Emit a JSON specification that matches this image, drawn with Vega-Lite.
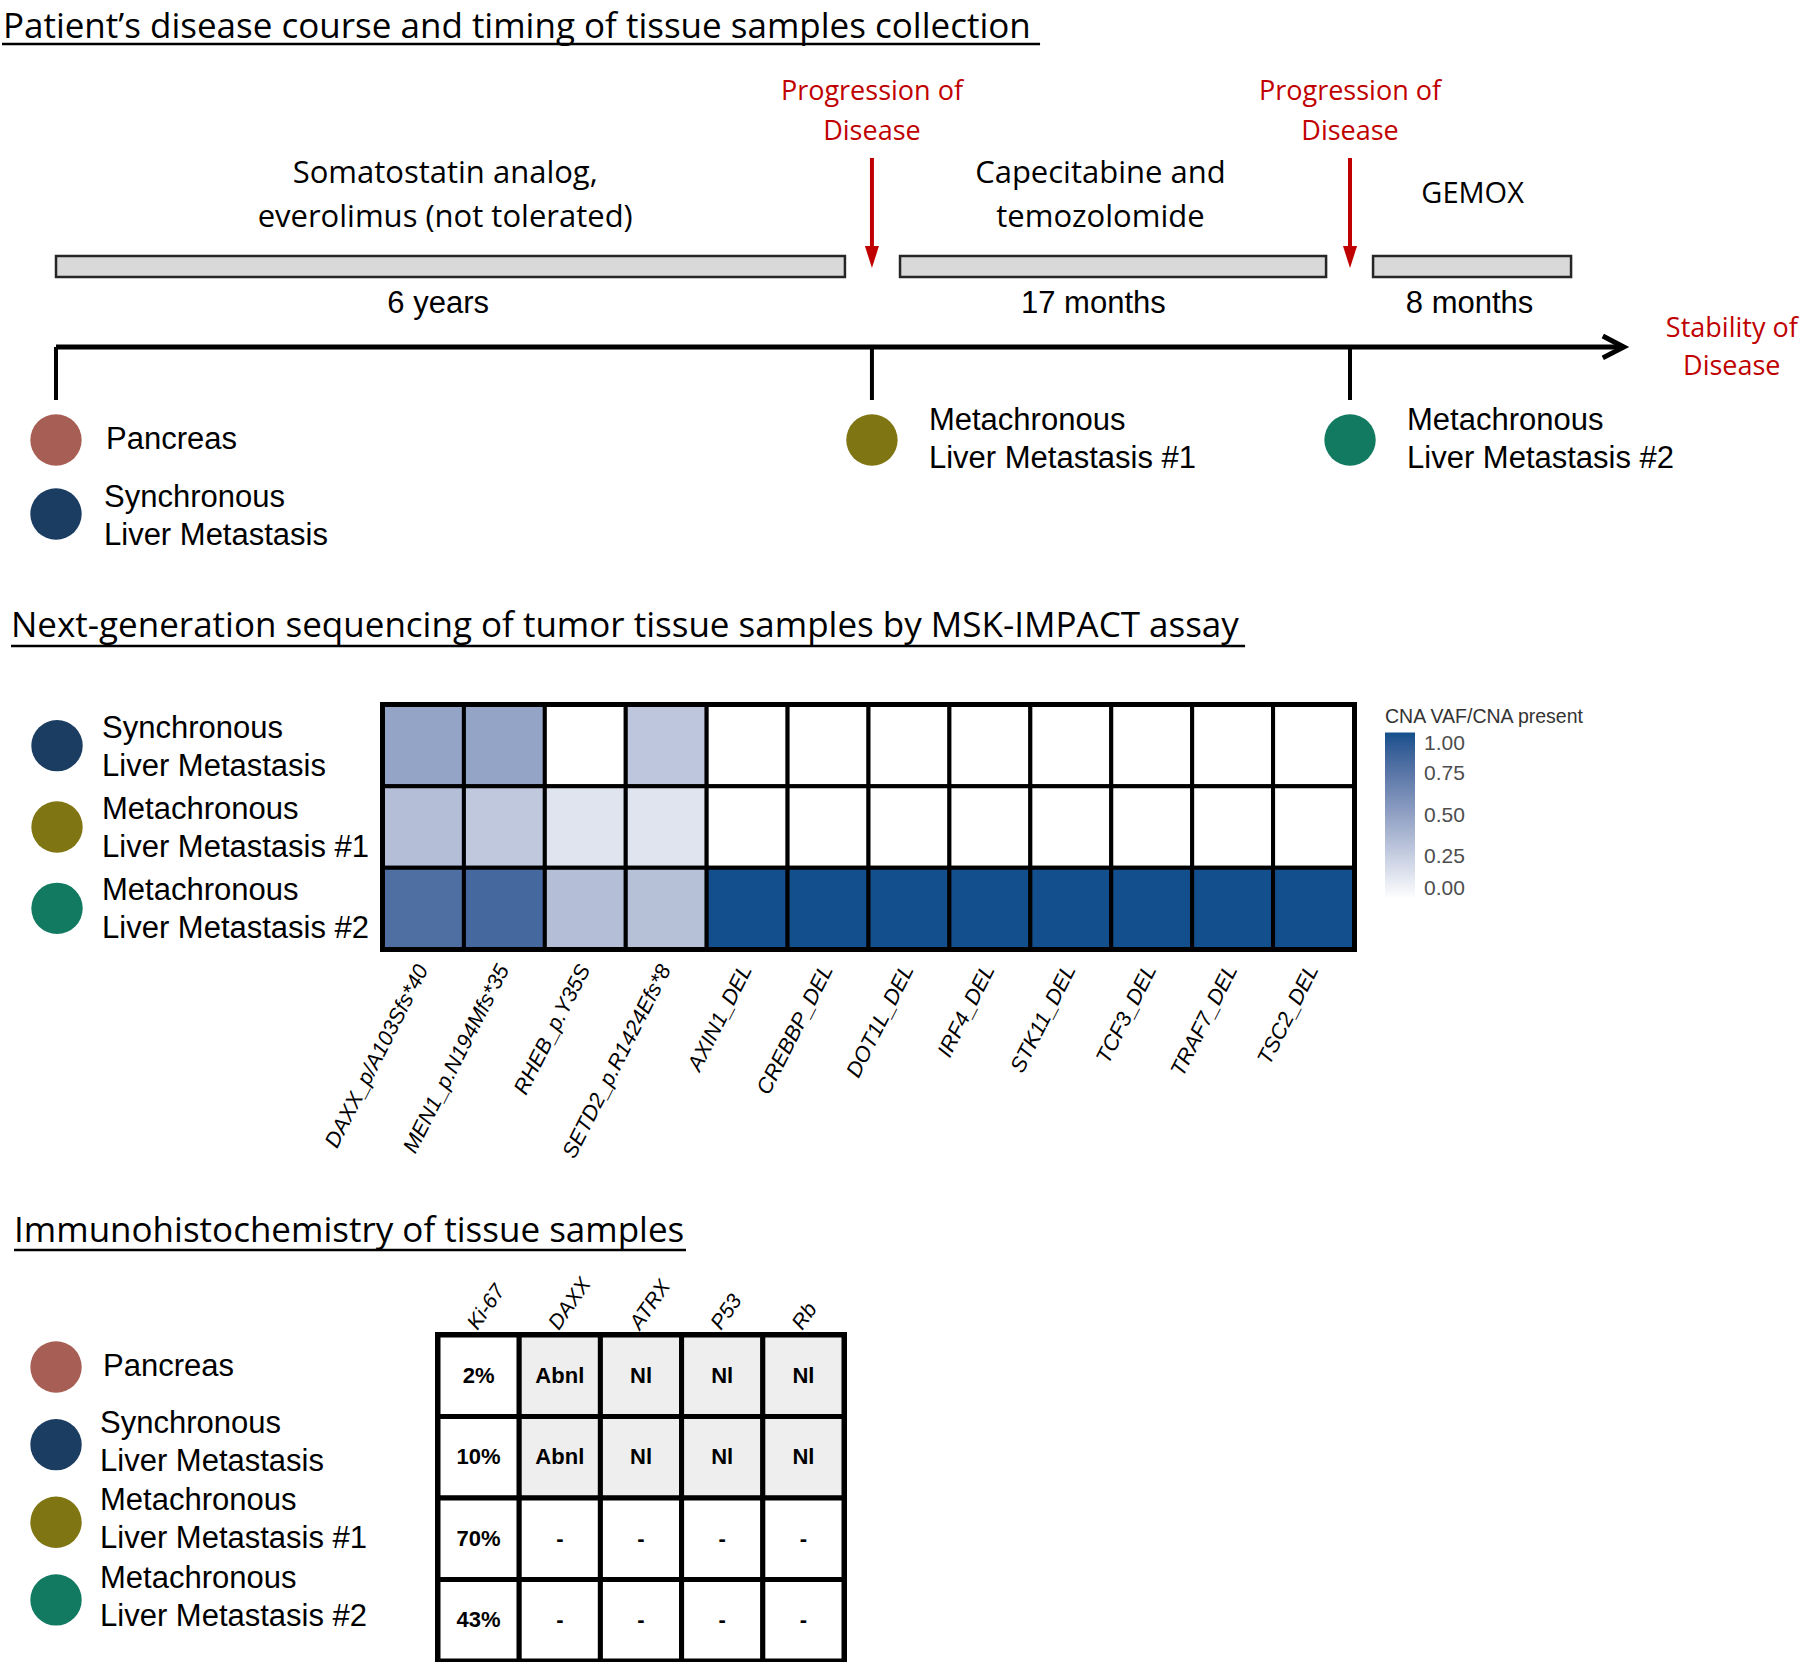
{
  "$schema": "https://vega.github.io/schema/vega-lite/v6.json",
  "padding": 0,
  "background": "white",
  "bounds": "flush",
  "spacing": 0,
  "config": {"view": {"stroke": null}, "text": {"font": "Liberation Sans", "color": "black"}},
  "resolve": {"scale": {"color": "independent"}, "legend": {"color": "independent"}},
  "datasets": {
    "sections": [
      {"section": "timeline", "title": "Patient’s disease course and timing of tissue samples collection"},
      {"section": "ngs", "title": "Next-generation sequencing of tumor tissue samples by MSK-IMPACT assay"},
      {"section": "ihc", "title": "Immunohistochemistry of tissue samples"}
    ],
    "events": [
      {"event": "Diagnosis", "label": "", "at": 3.0},
      {"event": "Progression of Disease", "label": "Progression of\nDisease", "at": 48.33},
      {"event": "Progression of Disease", "label": "Progression of\nDisease", "at": 74.89}
    ],
    "therapies": [
      {"therapy": "Somatostatin analog,\neverolimus (not tolerated)", "lines": 2, "duration": "6 years", "start": 3.0, "end": 46.83, "mid": 24.4},
      {"therapy": "Capecitabine and\ntemozolomide", "lines": 2, "duration": "17 months", "start": 49.89, "end": 73.56, "mid": 60.8},
      {"therapy": "GEMOX", "lines": 1, "duration": "8 months", "start": 76.17, "end": 87.17, "mid": 81.7}
    ],
    "span": [{"from": 3.0, "to": 90.1, "outcome": "Stability of\nDisease"}],
    "samples": [
      {"sample": "Pancreas", "label": "Pancreas", "lines": 1, "collected_at": 3.0, "slot": 0},
      {"sample": "Synchronous Liver Metastasis", "label": "Synchronous\nLiver Metastasis", "lines": 2, "collected_at": 3.0, "slot": 1},
      {"sample": "Metachronous Liver Metastasis #1", "label": "Metachronous\nLiver Metastasis #1", "lines": 2, "collected_at": 48.33, "slot": 0},
      {"sample": "Metachronous Liver Metastasis #2", "label": "Metachronous\nLiver Metastasis #2", "lines": 2, "collected_at": 74.89, "slot": 0}
    ],
    "ngs": [
      {"sample": "Synchronous Liver Metastasis", "gene": "DAXX_p/A103Sfs*40", "vaf": 0.49},
      {"sample": "Synchronous Liver Metastasis", "gene": "MEN1_p.N194Mfs*35", "vaf": 0.49},
      {"sample": "Synchronous Liver Metastasis", "gene": "RHEB_p.Y35S", "vaf": 0},
      {"sample": "Synchronous Liver Metastasis", "gene": "SETD2_p.R1424Efs*8", "vaf": 0.3},
      {"sample": "Synchronous Liver Metastasis", "gene": "AXIN1_DEL", "vaf": 0},
      {"sample": "Synchronous Liver Metastasis", "gene": "CREBBP_DEL", "vaf": 0},
      {"sample": "Synchronous Liver Metastasis", "gene": "DOT1L_DEL", "vaf": 0},
      {"sample": "Synchronous Liver Metastasis", "gene": "IRF4_DEL", "vaf": 0},
      {"sample": "Synchronous Liver Metastasis", "gene": "STK11_DEL", "vaf": 0},
      {"sample": "Synchronous Liver Metastasis", "gene": "TCF3_DEL", "vaf": 0},
      {"sample": "Synchronous Liver Metastasis", "gene": "TRAF7_DEL", "vaf": 0},
      {"sample": "Synchronous Liver Metastasis", "gene": "TSC2_DEL", "vaf": 0},
      {"sample": "Metachronous Liver Metastasis #1", "gene": "DAXX_p/A103Sfs*40", "vaf": 0.34},
      {"sample": "Metachronous Liver Metastasis #1", "gene": "MEN1_p.N194Mfs*35", "vaf": 0.29},
      {"sample": "Metachronous Liver Metastasis #1", "gene": "RHEB_p.Y35S", "vaf": 0.14},
      {"sample": "Metachronous Liver Metastasis #1", "gene": "SETD2_p.R1424Efs*8", "vaf": 0.14},
      {"sample": "Metachronous Liver Metastasis #1", "gene": "AXIN1_DEL", "vaf": 0},
      {"sample": "Metachronous Liver Metastasis #1", "gene": "CREBBP_DEL", "vaf": 0},
      {"sample": "Metachronous Liver Metastasis #1", "gene": "DOT1L_DEL", "vaf": 0},
      {"sample": "Metachronous Liver Metastasis #1", "gene": "IRF4_DEL", "vaf": 0},
      {"sample": "Metachronous Liver Metastasis #1", "gene": "STK11_DEL", "vaf": 0},
      {"sample": "Metachronous Liver Metastasis #1", "gene": "TCF3_DEL", "vaf": 0},
      {"sample": "Metachronous Liver Metastasis #1", "gene": "TRAF7_DEL", "vaf": 0},
      {"sample": "Metachronous Liver Metastasis #1", "gene": "TSC2_DEL", "vaf": 0},
      {"sample": "Metachronous Liver Metastasis #2", "gene": "DAXX_p/A103Sfs*40", "vaf": 0.8},
      {"sample": "Metachronous Liver Metastasis #2", "gene": "MEN1_p.N194Mfs*35", "vaf": 0.84},
      {"sample": "Metachronous Liver Metastasis #2", "gene": "RHEB_p.Y35S", "vaf": 0.34},
      {"sample": "Metachronous Liver Metastasis #2", "gene": "SETD2_p.R1424Efs*8", "vaf": 0.33},
      {"sample": "Metachronous Liver Metastasis #2", "gene": "AXIN1_DEL", "vaf": 1},
      {"sample": "Metachronous Liver Metastasis #2", "gene": "CREBBP_DEL", "vaf": 1},
      {"sample": "Metachronous Liver Metastasis #2", "gene": "DOT1L_DEL", "vaf": 1},
      {"sample": "Metachronous Liver Metastasis #2", "gene": "IRF4_DEL", "vaf": 1},
      {"sample": "Metachronous Liver Metastasis #2", "gene": "STK11_DEL", "vaf": 1},
      {"sample": "Metachronous Liver Metastasis #2", "gene": "TCF3_DEL", "vaf": 1},
      {"sample": "Metachronous Liver Metastasis #2", "gene": "TRAF7_DEL", "vaf": 1},
      {"sample": "Metachronous Liver Metastasis #2", "gene": "TSC2_DEL", "vaf": 1}
    ],
    "ihc": [
      {"sample": "Pancreas", "marker": "Ki-67", "result": "2%"},
      {"sample": "Pancreas", "marker": "DAXX", "result": "Abnl"},
      {"sample": "Pancreas", "marker": "ATRX", "result": "Nl"},
      {"sample": "Pancreas", "marker": "P53", "result": "Nl"},
      {"sample": "Pancreas", "marker": "Rb", "result": "Nl"},
      {"sample": "Synchronous Liver Metastasis", "marker": "Ki-67", "result": "10%"},
      {"sample": "Synchronous Liver Metastasis", "marker": "DAXX", "result": "Abnl"},
      {"sample": "Synchronous Liver Metastasis", "marker": "ATRX", "result": "Nl"},
      {"sample": "Synchronous Liver Metastasis", "marker": "P53", "result": "Nl"},
      {"sample": "Synchronous Liver Metastasis", "marker": "Rb", "result": "Nl"},
      {"sample": "Metachronous Liver Metastasis #1", "marker": "Ki-67", "result": "70%"},
      {"sample": "Metachronous Liver Metastasis #1", "marker": "DAXX", "result": "-"},
      {"sample": "Metachronous Liver Metastasis #1", "marker": "ATRX", "result": "-"},
      {"sample": "Metachronous Liver Metastasis #1", "marker": "P53", "result": "-"},
      {"sample": "Metachronous Liver Metastasis #1", "marker": "Rb", "result": "-"},
      {"sample": "Metachronous Liver Metastasis #2", "marker": "Ki-67", "result": "43%"},
      {"sample": "Metachronous Liver Metastasis #2", "marker": "DAXX", "result": "-"},
      {"sample": "Metachronous Liver Metastasis #2", "marker": "ATRX", "result": "-"},
      {"sample": "Metachronous Liver Metastasis #2", "marker": "P53", "result": "-"},
      {"sample": "Metachronous Liver Metastasis #2", "marker": "Rb", "result": "-"}
    ]
  },
  "vconcat": [
    {
      "width": 1800,
      "height": 590,
      "layer": [
        {
          "data": {"name": "sections"},
          "transform": [{"filter": "datum.section === 'timeline'"}],
          "mark": {"type": "text", "align": "left", "baseline": "alphabetic", "font": "Open Sans", "fontSize": 35, "color": "black"},
          "encoding": {
            "x": {"datum": 0.05, "type": "quantitative", "scale": {"domain": [0, 100], "nice": false, "zero": false}, "axis": null},
            "y": {"datum": 6.44, "type": "quantitative", "scale": {"domain": [0, 100], "reverse": true, "nice": false, "zero": false}, "axis": null},
            "text": {"field": "title"}
          }
        },
        {
          "data": {"name": "sections"},
          "transform": [{"filter": "datum.section === 'timeline'"}],
          "mark": {"type": "rule", "strokeWidth": 2.5, "color": "black"},
          "encoding": {
            "x": {"datum": 0, "type": "quantitative", "scale": {"domain": [0, 100], "nice": false, "zero": false}, "axis": null},
            "x2": {"datum": 57.67},
            "y": {"datum": 7.46, "type": "quantitative", "scale": {"domain": [0, 100], "reverse": true, "nice": false, "zero": false}, "axis": null}
          }
        },
        {
          "data": {"name": "events"},
          "transform": [{"filter": "datum.event === 'Progression of Disease'"}],
          "mark": {"type": "text", "align": "center", "baseline": "alphabetic", "font": "Open Sans", "fontSize": 27, "lineHeight": 40, "lineBreak": "\n", "color": "#C00000"},
          "encoding": {
            "x": {"field": "at", "type": "quantitative", "scale": {"domain": [0, 100], "nice": false, "zero": false}, "axis": null},
            "y": {"datum": 16.95, "type": "quantitative", "scale": {"domain": [0, 100], "reverse": true, "nice": false, "zero": false}, "axis": null},
            "text": {"field": "label"}
          }
        },
        {
          "data": {"name": "events"},
          "transform": [{"filter": "datum.event === 'Progression of Disease'"}],
          "mark": {"type": "rule", "strokeWidth": 4, "color": "#C00000"},
          "encoding": {
            "x": {"field": "at", "type": "quantitative", "scale": {"domain": [0, 100], "nice": false, "zero": false}, "axis": null},
            "y": {"datum": 26.78, "type": "quantitative", "scale": {"domain": [0, 100], "reverse": true, "nice": false, "zero": false}, "axis": null},
            "y2": {"datum": 42.2}
          }
        },
        {
          "data": {"name": "events"},
          "transform": [{"filter": "datum.event === 'Progression of Disease'"}],
          "mark": {"type": "point", "shape": "M-0.64,-1L0.64,-1L0,1Z", "size": 484, "filled": true, "opacity": 1, "color": "#C00000"},
          "encoding": {
            "x": {"field": "at", "type": "quantitative", "scale": {"domain": [0, 100], "nice": false, "zero": false}, "axis": null},
            "y": {"datum": 43.56, "type": "quantitative", "scale": {"domain": [0, 100], "reverse": true, "nice": false, "zero": false}, "axis": null}
          }
        },
        {
          "data": {"name": "therapies"},
          "mark": {"type": "rect", "fill": "#D9D9D9", "stroke": "#262626", "strokeWidth": 2.5},
          "encoding": {
            "x": {"field": "start", "type": "quantitative", "scale": {"domain": [0, 100], "nice": false, "zero": false}, "axis": null},
            "x2": {"field": "end"},
            "y": {"datum": 43.39, "type": "quantitative", "scale": {"domain": [0, 100], "reverse": true, "nice": false, "zero": false}, "axis": null},
            "y2": {"datum": 46.95}
          }
        },
        {
          "data": {"name": "therapies"},
          "transform": [{"filter": "datum.lines === 2"}],
          "mark": {"type": "text", "align": "center", "baseline": "middle", "font": "Open Sans", "fontSize": 31, "lineHeight": 44, "lineBreak": "\n", "dy": -22, "dx": 4, "color": "black"},
          "encoding": {
            "x": {"field": "mid", "type": "quantitative", "scale": {"domain": [0, 100], "nice": false, "zero": false}, "axis": null},
            "y": {"datum": 33.2, "type": "quantitative", "scale": {"domain": [0, 100], "reverse": true, "nice": false, "zero": false}, "axis": null},
            "text": {"field": "therapy"}
          }
        },
        {
          "data": {"name": "therapies"},
          "transform": [{"filter": "datum.lines === 1"}],
          "mark": {"type": "text", "align": "center", "baseline": "middle", "font": "Open Sans", "fontSize": 29, "color": "black"},
          "encoding": {
            "x": {"field": "mid", "type": "quantitative", "scale": {"domain": [0, 100], "nice": false, "zero": false}, "axis": null},
            "y": {"datum": 32.9, "type": "quantitative", "scale": {"domain": [0, 100], "reverse": true, "nice": false, "zero": false}, "axis": null},
            "text": {"field": "therapy"}
          }
        },
        {
          "data": {"name": "therapies"},
          "mark": {"type": "text", "align": "center", "baseline": "alphabetic", "fontSize": 31, "dx": -3, "color": "black"},
          "encoding": {
            "x": {"field": "mid", "type": "quantitative", "scale": {"domain": [0, 100], "nice": false, "zero": false}, "axis": null},
            "y": {"datum": 53.05, "type": "quantitative", "scale": {"domain": [0, 100], "reverse": true, "nice": false, "zero": false}, "axis": null},
            "text": {"field": "duration"}
          }
        },
        {
          "data": {"name": "span"},
          "mark": {"type": "rule", "strokeWidth": 5, "color": "black"},
          "encoding": {
            "x": {"field": "from", "type": "quantitative", "scale": {"domain": [0, 100], "nice": false, "zero": false}, "axis": null},
            "x2": {"field": "to"},
            "y": {"datum": 58.81, "type": "quantitative", "scale": {"domain": [0, 100], "reverse": true, "nice": false, "zero": false}, "axis": null}
          }
        },
        {
          "data": {"name": "span"},
          "mark": {"type": "point", "shape": "M-1,-0.52L0,0L-1,0.52", "size": 1764, "filled": false, "opacity": 1, "stroke": "black", "strokeWidth": 5, "strokeJoin": "miter"},
          "encoding": {
            "x": {"field": "to", "type": "quantitative", "scale": {"domain": [0, 100], "nice": false, "zero": false}, "axis": null},
            "y": {"datum": 58.81, "type": "quantitative", "scale": {"domain": [0, 100], "reverse": true, "nice": false, "zero": false}, "axis": null}
          }
        },
        {
          "data": {"name": "span"},
          "mark": {"type": "text", "align": "center", "baseline": "alphabetic", "font": "Open Sans", "fontSize": 27, "lineHeight": 38, "lineBreak": "\n", "dx": 108, "color": "#C00000"},
          "encoding": {
            "x": {"field": "to", "type": "quantitative", "scale": {"domain": [0, 100], "nice": false, "zero": false}, "axis": null},
            "y": {"datum": 57.12, "type": "quantitative", "scale": {"domain": [0, 100], "reverse": true, "nice": false, "zero": false}, "axis": null},
            "text": {"field": "outcome"}
          }
        },
        {
          "data": {"name": "events"},
          "mark": {"type": "rule", "strokeWidth": 4, "color": "black"},
          "encoding": {
            "x": {"field": "at", "type": "quantitative", "scale": {"domain": [0, 100], "nice": false, "zero": false}, "axis": null},
            "y": {"datum": 58.81, "type": "quantitative", "scale": {"domain": [0, 100], "reverse": true, "nice": false, "zero": false}, "axis": null},
            "y2": {"datum": 67.8}
          }
        },
        {
          "data": {"name": "samples"},
          "transform": [{"filter": "datum.slot === 0"}],
          "mark": {"type": "point", "shape": "circle", "filled": true, "size": 2642, "opacity": 1},
          "encoding": {
            "x": {"field": "collected_at", "type": "quantitative", "scale": {"domain": [0, 100], "nice": false, "zero": false}, "axis": null},
            "y": {"datum": 74.58, "type": "quantitative", "scale": {"domain": [0, 100], "reverse": true, "nice": false, "zero": false}, "axis": null},
            "fill": {"field": "sample", "type": "nominal", "scale": {"domain": ["Pancreas", "Synchronous Liver Metastasis", "Metachronous Liver Metastasis #1", "Metachronous Liver Metastasis #2"], "range": ["#A65E55", "#1B3D62", "#807513", "#137A62"]}, "legend": null}
          }
        },
        {
          "data": {"name": "samples"},
          "transform": [{"filter": "datum.slot === 1"}],
          "mark": {"type": "point", "shape": "circle", "filled": true, "size": 2642, "opacity": 1},
          "encoding": {
            "x": {"field": "collected_at", "type": "quantitative", "scale": {"domain": [0, 100], "nice": false, "zero": false}, "axis": null},
            "y": {"datum": 87.12, "type": "quantitative", "scale": {"domain": [0, 100], "reverse": true, "nice": false, "zero": false}, "axis": null},
            "fill": {"field": "sample", "type": "nominal", "scale": {"domain": ["Pancreas", "Synchronous Liver Metastasis", "Metachronous Liver Metastasis #1", "Metachronous Liver Metastasis #2"], "range": ["#A65E55", "#1B3D62", "#807513", "#137A62"]}, "legend": null}
          }
        },
        {
          "data": {"name": "samples"},
          "transform": [{"filter": "datum.slot === 0 && datum.lines === 1"}],
          "mark": {"type": "text", "align": "left", "baseline": "middle", "fontSize": 31, "dx": 50, "color": "black"},
          "encoding": {
            "x": {"field": "collected_at", "type": "quantitative", "scale": {"domain": [0, 100], "nice": false, "zero": false}, "axis": null},
            "y": {"datum": 74.58, "type": "quantitative", "scale": {"domain": [0, 100], "reverse": true, "nice": false, "zero": false}, "axis": null},
            "text": {"field": "label"}
          }
        },
        {
          "data": {"name": "samples"},
          "transform": [{"filter": "datum.slot === 0 && datum.lines === 2"}],
          "mark": {"type": "text", "align": "left", "baseline": "middle", "fontSize": 31, "lineHeight": 38, "lineBreak": "\n", "dx": 57, "dy": -19, "color": "black"},
          "encoding": {
            "x": {"field": "collected_at", "type": "quantitative", "scale": {"domain": [0, 100], "nice": false, "zero": false}, "axis": null},
            "y": {"datum": 74.58, "type": "quantitative", "scale": {"domain": [0, 100], "reverse": true, "nice": false, "zero": false}, "axis": null},
            "text": {"field": "label"}
          }
        },
        {
          "data": {"name": "samples"},
          "transform": [{"filter": "datum.slot === 1"}],
          "mark": {"type": "text", "align": "left", "baseline": "middle", "fontSize": 31, "lineHeight": 38, "lineBreak": "\n", "dx": 48, "dy": -16, "color": "black"},
          "encoding": {
            "x": {"field": "collected_at", "type": "quantitative", "scale": {"domain": [0, 100], "nice": false, "zero": false}, "axis": null},
            "y": {"datum": 87.12, "type": "quantitative", "scale": {"domain": [0, 100], "reverse": true, "nice": false, "zero": false}, "axis": null},
            "text": {"field": "label"}
          }
        }
      ]
    },
    {
      "width": 1800,
      "height": 115,
      "data": {"name": "sections"},
      "transform": [{"filter": "datum.section === 'ngs'"}],
      "layer": [
        {
          "mark": {"type": "text", "align": "left", "baseline": "alphabetic", "font": "Open Sans", "fontSize": 35, "color": "black"},
          "encoding": {
            "x": {"datum": 0.5, "type": "quantitative", "scale": {"domain": [0, 100], "nice": false, "zero": false}, "axis": null},
            "y": {"datum": 40.87, "type": "quantitative", "scale": {"domain": [0, 100], "reverse": true, "nice": false, "zero": false}, "axis": null},
            "text": {"field": "title"}
          }
        },
        {
          "mark": {"type": "rule", "strokeWidth": 2.5, "color": "black"},
          "encoding": {
            "x": {"datum": 0.5, "type": "quantitative", "scale": {"domain": [0, 100], "nice": false, "zero": false}, "axis": null},
            "x2": {"datum": 69.06},
            "y": {"datum": 48.7, "type": "quantitative", "scale": {"domain": [0, 100], "reverse": true, "nice": false, "zero": false}, "axis": null}
          }
        }
      ]
    },
    {
      "bounds": "flush",
      "spacing": 0,
      "resolve": {"scale": {"color": "independent"}, "legend": {"color": "independent"}},
      "hconcat": [
        {
          "width": 381,
          "height": 244,
          "data": {"name": "samples"},
          "transform": [{"filter": "datum.sample !== 'Pancreas'"}],
          "encoding": {
            "x": {"datum": 14.44, "type": "quantitative", "scale": {"domain": [0, 100], "nice": false, "zero": false}, "axis": null},
            "y": {"field": "sample", "type": "nominal", "scale": {"type": "point", "domain": ["Synchronous Liver Metastasis", "Metachronous Liver Metastasis #1", "Metachronous Liver Metastasis #2"], "padding": 0.5}, "axis": null}
          },
          "layer": [
            {
              "mark": {"type": "point", "shape": "circle", "filled": true, "size": 2642, "opacity": 1},
              "encoding": {
                "fill": {"field": "sample", "type": "nominal", "scale": {"domain": ["Pancreas", "Synchronous Liver Metastasis", "Metachronous Liver Metastasis #1", "Metachronous Liver Metastasis #2"], "range": ["#A65E55", "#1B3D62", "#807513", "#137A62"]}, "legend": null}
              }
            },
            {
              "mark": {"type": "text", "align": "left", "baseline": "middle", "fontSize": 31, "lineHeight": 38, "lineBreak": "\n", "dx": 45, "dy": -17, "color": "black"},
              "encoding": {"text": {"field": "label"}}
            }
          ]
        },
        {
          "width": 971,
          "height": 244,
          "data": {"name": "ngs"},
          "view": {"stroke": "black", "strokeWidth": 6},
          "mark": {"type": "rect", "stroke": "black", "strokeWidth": 4},
          "encoding": {
            "x": {
              "field": "gene", "type": "nominal",
              "scale": {"domain": ["DAXX_p/A103Sfs*40", "MEN1_p.N194Mfs*35", "RHEB_p.Y35S", "SETD2_p.R1424Efs*8", "AXIN1_DEL", "CREBBP_DEL", "DOT1L_DEL", "IRF4_DEL", "STK11_DEL", "TCF3_DEL", "TRAF7_DEL", "TSC2_DEL"], "paddingInner": 0, "paddingOuter": 0},
              "axis": {"title": null, "labelAngle": -63, "labelAlign": "right", "labelBaseline": "middle", "labelFont": "Liberation Sans", "labelFontStyle": "italic", "labelFontSize": 21.5, "labelColor": "black", "ticks": false, "domain": false, "labelPadding": 17, "labelLimit": 400}
            },
            "y": {
              "field": "sample", "type": "nominal",
              "scale": {"domain": ["Synchronous Liver Metastasis", "Metachronous Liver Metastasis #1", "Metachronous Liver Metastasis #2"], "paddingInner": 0, "paddingOuter": 0},
              "axis": null
            },
            "color": {
              "field": "vaf", "type": "quantitative",
              "scale": {"domain": [0, 1], "range": ["#FFFFFF", "#134F8C"], "interpolate": "lab"},
              "legend": {"title": "CNA VAF/CNA present", "orient": "right", "offset": 28, "direction": "vertical", "gradientLength": 166, "gradientThickness": 30, "values": [0, 0.25, 0.5, 0.75, 1], "format": ".2f", "labelFont": "Liberation Sans", "labelFontSize": 21, "labelColor": "#4D4D4D", "labelOffset": 9, "labelOverlap": false, "titleFont": "Liberation Sans", "titleFontSize": 19.5, "titleFontWeight": "normal", "titleColor": "#333333", "titlePadding": 5, "padding": 3, "gradientStrokeWidth": 0, "titleLimit": 400}
            }
          }
        }
      ]
    },
    {
      "width": 1800,
      "height": 630,
      "data": {"name": "sections"},
      "transform": [{"filter": "datum.section === 'ihc'"}],
      "layer": [
        {
          "mark": {"type": "text", "align": "left", "baseline": "alphabetic", "font": "Open Sans", "fontSize": 35, "color": "black"},
          "encoding": {
            "x": {"datum": 0.67, "type": "quantitative", "scale": {"domain": [0, 100], "nice": false, "zero": false}, "axis": null},
            "y": {"datum": 85.24, "type": "quantitative", "scale": {"domain": [0, 100], "reverse": true, "nice": false, "zero": false}, "axis": null},
            "text": {"field": "title"}
          }
        },
        {
          "mark": {"type": "rule", "strokeWidth": 2.5, "color": "black"},
          "encoding": {
            "x": {"datum": 0.67, "type": "quantitative", "scale": {"domain": [0, 100], "nice": false, "zero": false}, "axis": null},
            "x2": {"datum": 38.0},
            "y": {"datum": 86.51, "type": "quantitative", "scale": {"domain": [0, 100], "reverse": true, "nice": false, "zero": false}, "axis": null}
          }
        }
      ]
    },
    {
      "bounds": "flush",
      "spacing": 0,
      "hconcat": [
        {
          "width": 436,
          "height": 326,
          "data": {"name": "samples"},
          "encoding": {
            "x": {"datum": 12.39, "type": "quantitative", "scale": {"domain": [0, 100], "nice": false, "zero": false}, "axis": null},
            "y": {"field": "sample", "type": "nominal", "scale": {"type": "point", "domain": ["Pancreas", "Synchronous Liver Metastasis", "Metachronous Liver Metastasis #1", "Metachronous Liver Metastasis #2"], "padding": 0.6, "align": 0.344}, "axis": null}
          },
          "layer": [
            {
              "mark": {"type": "point", "shape": "circle", "filled": true, "size": 2642, "opacity": 1},
              "encoding": {
                "fill": {"field": "sample", "type": "nominal", "scale": {"domain": ["Pancreas", "Synchronous Liver Metastasis", "Metachronous Liver Metastasis #1", "Metachronous Liver Metastasis #2"], "range": ["#A65E55", "#1B3D62", "#807513", "#137A62"]}, "legend": null}
              }
            },
            {
              "transform": [{"filter": "datum.lines === 1"}],
              "mark": {"type": "text", "align": "left", "baseline": "middle", "fontSize": 31, "dx": 47, "color": "black"},
              "encoding": {"text": {"field": "label"}}
            },
            {
              "transform": [{"filter": "datum.lines === 2"}],
              "mark": {"type": "text", "align": "left", "baseline": "middle", "fontSize": 31, "lineHeight": 38, "lineBreak": "\n", "dx": 44, "dy": -21, "color": "black"},
              "encoding": {"text": {"field": "label"}}
            }
          ]
        },
        {
          "width": 406,
          "height": 326,
          "data": {"name": "ihc"},
          "view": {"stroke": "black", "strokeWidth": 6},
          "encoding": {
            "x": {
              "field": "marker", "type": "nominal",
              "scale": {"domain": ["Ki-67", "DAXX", "ATRX", "P53", "Rb"], "paddingInner": 0, "paddingOuter": 0},
              "axis": {"orient": "top", "title": null, "labelAngle": -55, "labelAlign": "left", "labelBaseline": "middle", "labelFont": "Liberation Sans", "labelFontStyle": "italic", "labelFontSize": 21, "labelColor": "black", "ticks": false, "domain": false, "labelPadding": 8, "labelOffset": -6}
            },
            "y": {
              "field": "sample", "type": "nominal",
              "scale": {"domain": ["Pancreas", "Synchronous Liver Metastasis", "Metachronous Liver Metastasis #1", "Metachronous Liver Metastasis #2"], "paddingInner": 0, "paddingOuter": 0},
              "axis": null
            }
          },
          "layer": [
            {
              "mark": {"type": "rect", "stroke": "black", "strokeWidth": 5},
              "encoding": {
                "fill": {"condition": {"test": "datum.result !== '-' && datum.marker !== 'Ki-67'", "value": "#EEEEEE"}, "value": "#FFFFFF"}
              }
            },
            {
              "mark": {"type": "text", "align": "center", "baseline": "middle", "fontSize": 22, "fontWeight": "bold", "color": "black"},
              "encoding": {"text": {"field": "result"}}
            }
          ]
        }
      ]
    }
  ]
}
